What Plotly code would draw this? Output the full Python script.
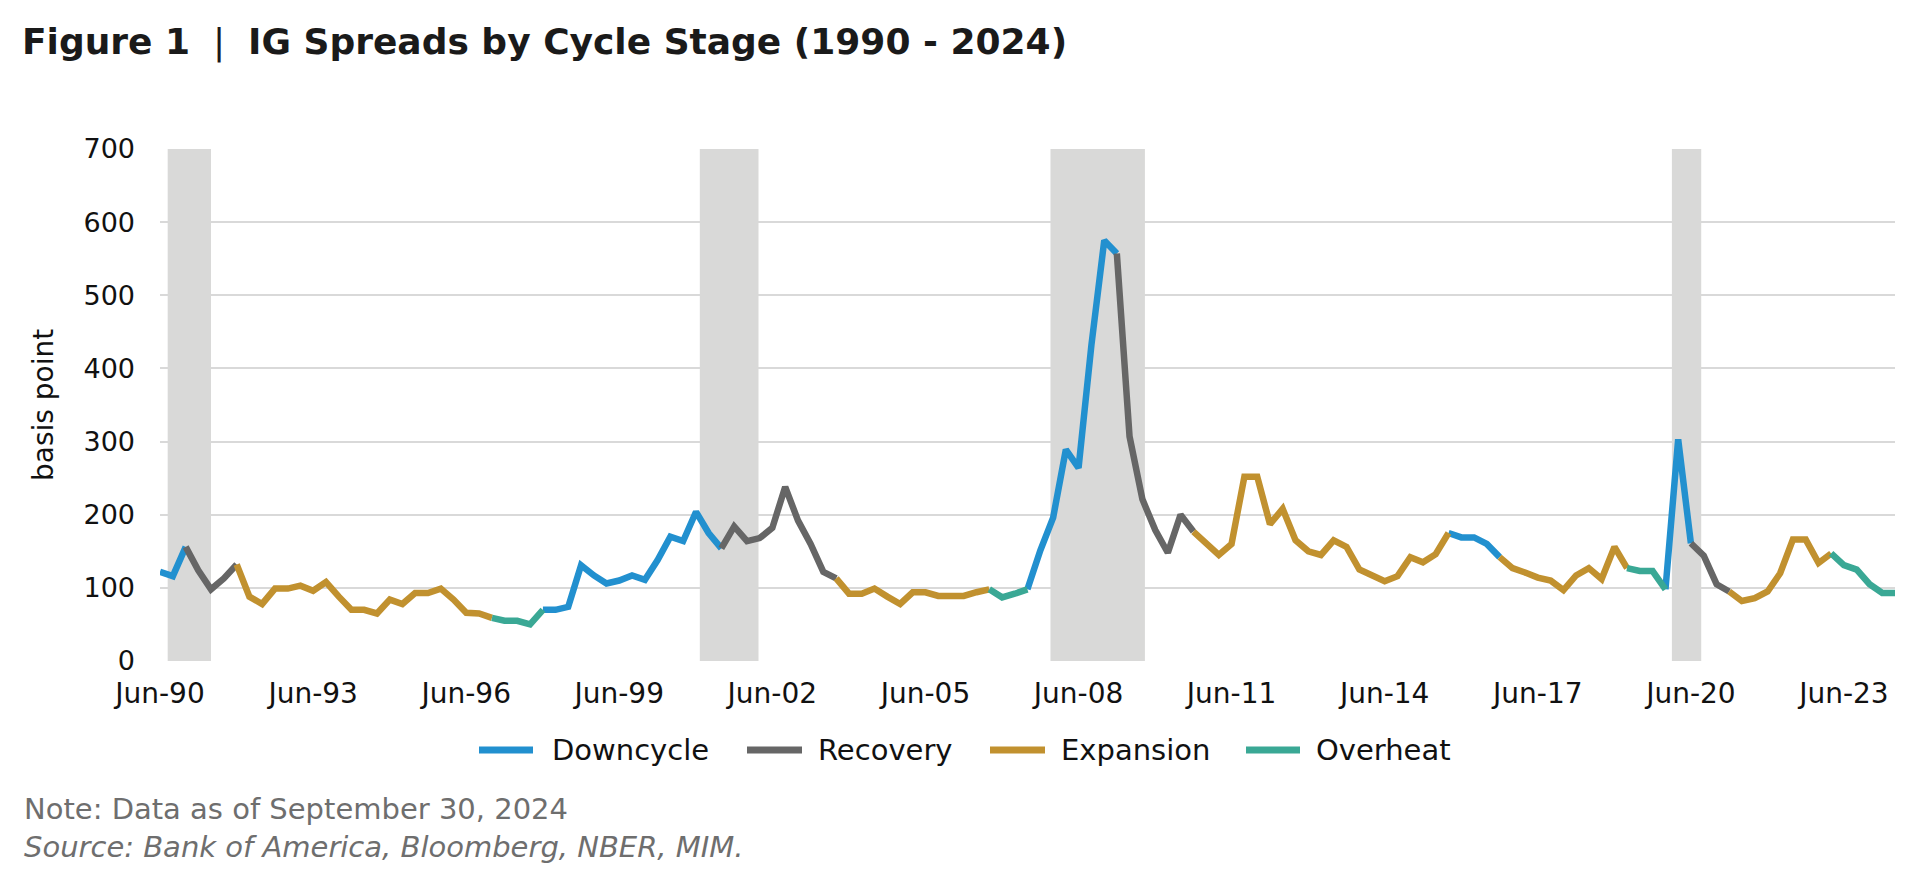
# IG spreads by cycle stage, quarterly 1990 - 2024
import plotly.graph_objects as go
import pandas as pd

# quarterly IG spread (bp), Jun-90 .. Jun-24
quarters = pd.period_range("1990Q2", "2024Q2", freq="Q")
quarter_dates = quarters.to_timestamp(how="end").normalize()

spread_bp = [
    122, 116, 156, 124, 98, 113, 132, 88, 78, 99,
    99, 103, 96, 108, 88, 70, 70, 65, 84, 78,
    93, 93, 99, 84, 66, 65, 59, 55, 55, 50,
    70, 70, 74, 131, 117, 106, 110, 117, 111, 138,
    170, 164, 204, 175, 154, 184, 164, 168, 182, 238,
    192, 160, 122, 113, 92, 92, 99, 88, 78, 94,
    94, 89, 89, 89, 94, 98, 87, 92, 98, 151,
    196, 289, 264, 432, 575, 557, 307, 221, 179, 148,
    200, 177, 162, 145, 160, 252, 252, 187, 208, 165,
    150, 145, 165, 156, 125, 117, 109, 116, 142, 135,
    146, 175, 169, 169, 160, 142, 127, 121, 114, 110,
    97, 117, 127, 112, 156, 127, 123, 123, 98, 303,
    161, 144, 105, 95, 82, 86, 95, 120, 166, 166,
    134, 147, 131, 125, 105, 93, 93,
]

# cycle stage runs (number of quarters in each run, in order)
run_stage = ["Downcycle", "Recovery", "Expansion", "Overheat",
             "Downcycle", "Recovery", "Expansion", "Overheat",
             "Downcycle", "Recovery", "Expansion", "Downcycle",
             "Expansion", "Overheat", "Downcycle", "Recovery",
             "Expansion", "Overheat"]
run_length = [2, 4, 20, 4, 14, 9, 12, 3, 7, 6, 20, 4, 10, 3, 2, 3, 8, 6]

# NBER recessions (shaded)
recession_start = ["1990-08-24", "2001-01-27", "2007-12-12", "2020-02-15"]
recession_end = ["1991-06-30", "2002-03-23", "2009-10-18", "2020-09-12"]

stages = ["Downcycle", "Recovery", "Expansion", "Overheat"]
stage_colors = {
    "Downcycle": "#2290CF",
    "Recovery": "#666666",
    "Expansion": "#C1912F",
    "Overheat": "#3AA895",
}

# figure geometry (page body has an 8px margin)
W, H = 1897, 860
PL, PR, PT, PB = 152, 10, 141, 207
plot_w = W - PL - PR
plot_h = H - PT - PB


def px_x(p):
    return (p - PL) / plot_w


def px_y(p):
    return (H - PB - p) / plot_h


FONT = "DejaVu Sans"

fig = go.Figure()

# build one trace per stage; each run goes to the first point of the next run
n = len(spread_bp)
seg_x = {s: [] for s in stages}
seg_y = {s: [] for s in stages}
start = 0
for stage, length in zip(run_stage, run_length):
    stop = min(start + length, n - 1)
    for i in range(start, stop + 1):
        seg_x[stage].append(quarter_dates[i])
        seg_y[stage].append(spread_bp[i])
    seg_x[stage].append(None)
    seg_y[stage].append(None)
    start += length

for s in stages:
    fig.add_trace(go.Scatter(
        x=seg_x[s], y=seg_y[s],
        mode="lines",
        name=s,
        line=dict(color=stage_colors[s], width=6.5),
        connectgaps=False,
        showlegend=False,
        hovertemplate="%{x|%b-%y}: %{y} bp<extra>" + s + "</extra>",
    ))

# recession shading
for a, b in zip(recession_start, recession_end):
    fig.add_shape(
        type="rect", xref="x", yref="y",
        x0=a, x1=b, y0=0, y1=700,
        fillcolor="#D9D9D8", line=dict(width=0),
        layer="between",
    )

# legend drawn by hand so the samples match the original
legend_line = [(471, 525), (739, 794), (982, 1037), (1238, 1292)]
legend_text = [542, 808, 1051, 1306]
legend_y = 742
for s, (a, b), t in zip(stages, legend_line, legend_text):
    fig.add_shape(
        type="line", xref="paper", yref="paper",
        x0=px_x(a), x1=px_x(b), y0=px_y(legend_y), y1=px_y(legend_y),
        line=dict(color=stage_colors[s], width=7),
    )
    fig.add_annotation(
        xref="paper", yref="paper", x=px_x(t), y=px_y(legend_y),
        text=s, showarrow=False, xanchor="left", yanchor="middle",
        font=dict(family=FONT, size=29, color="#111111"),
    )

# y-axis title
fig.add_annotation(
    xref="paper", yref="paper", x=px_x(35), y=0.5,
    text="basis point", textangle=-90, showarrow=False,
    xanchor="center", yanchor="middle",
    font=dict(family=FONT, size=28, color="#111111"),
)

# notes
fig.add_annotation(
    xref="paper", yref="paper", x=px_x(14), y=px_y(801),
    text="Note: Data as of September 30, 2024", showarrow=False,
    xanchor="left", yanchor="middle",
    font=dict(family=FONT, size=29, color="#6E6E6E"),
)
fig.add_annotation(
    xref="paper", yref="paper", x=px_x(14), y=px_y(839),
    text="<i>Source: Bank of America, Bloomberg, NBER, MIM.</i>", showarrow=False,
    xanchor="left", yanchor="middle",
    font=dict(family=FONT, size=29, color="#6E6E6E"),
)

tick_dates = quarter_dates[::12]
fig.update_layout(
    width=W, height=H,
    margin=dict(l=PL, r=PR, t=PT, b=PB),
    plot_bgcolor="white",
    paper_bgcolor="white",
    showlegend=False,
    title=dict(
        text="<b>Figure 1</b>\u00a0 | \u00a0<b>IG Spreads by Cycle Stage (1990 - 2024)</b>",
        xref="container", yref="container",
        x=14 / W, xanchor="left",
        y=1 - 33 / H, yanchor="middle",
        font=dict(family=FONT, size=36, color="#1A1A1A"),
    ),
    xaxis=dict(
        range=[quarter_dates[0], quarter_dates[-1]],
        tickvals=list(tick_dates),
        ticktext=[d.strftime("%b-%y") for d in tick_dates],
        showgrid=False, zeroline=False, showline=False,
        ticks="", ticklabelstandoff=13,
        tickfont=dict(family=FONT, size=28, color="#111111"),
    ),
    yaxis=dict(
        range=[0, 700],
        tickvals=[0, 100, 200, 300, 400, 500, 600, 700],
        showgrid=True, gridcolor="#D9D9D9", gridwidth=2,
        zeroline=False, showline=False,
        ticks="", ticklabelstandoff=24,
        tickfont=dict(family=FONT, size=27, color="#111111"),
    ),
)

fig.write_html("out.html")
